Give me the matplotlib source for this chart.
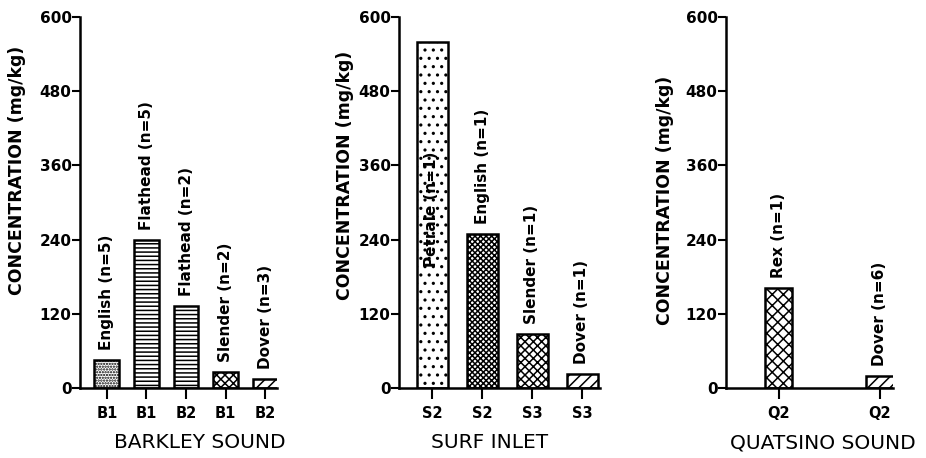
import numpy as np
import matplotlib
matplotlib.use("Agg")
import matplotlib.pyplot as plt

plt.rcParams['font.family'] = 'DejaVu Sans'
plt.rcParams['hatch.linewidth'] = 1.1

# Barkley Sound
barkley_sites = ["B1", "B1", "B2", "B1", "B2"]
barkley_labels = ["English (n=5)", "Flathead (n=5)", "Flathead (n=2)", "Slender (n=2)", "Dover (n=3)"]
barkley_values = [45, 240, 133, 26, 15]
barkley_hatch = ["......", "----", "----", "xxxx", "///"]

# Surf Inlet
surf_sites = ["S2", "S2", "S3", "S3"]
surf_labels = ["Petrale (n=1)", "English (n=1)", "Slender (n=1)", "Dover (n=1)"]
surf_values = [560, 249, 87, 23]
surf_hatch = ["..", "xxxxxx", "xxxx", "///"]

# Quatsino Sound
quat_sites = ["Q2", "Q2"]
quat_labels = ["Rex (n=1)", "Dover (n=6)"]
quat_values = [162, 20]
quat_hatch = ["xxx", "///"]

fig = plt.figure(figsize=(9.26, 4.58), dpi=100)

panels = [
    # rect, xlim, width, names, values, hatches, sites, title, title x, ylabel x, ylabel y
    ([80/926, 70/458, 197/926, 371/458], (-0.68, 4.3), 0.63,
     barkley_labels, barkley_values, barkley_hatch, barkley_sites, "BARKLEY SOUND", 200, 17, 170),
    ([399/926, 70/458, 201/926, 371/458], (-0.66, 3.36), 0.62,
     surf_labels, surf_values, surf_hatch, surf_sites, "SURF INLET", 490, 345, 175),
    ([726/926, 70/458, 167/926, 371/458], (-0.52, 1.13), 0.27,
     quat_labels, quat_values, quat_hatch, quat_sites, "QUATSINO SOUND", 823, 665, 200),
]

for rect, xlim, w, names, vals, hatches, sites, title, tx, lx, ly in panels:
    ax = fig.add_axes(rect)
    x = np.arange(len(vals))
    for i in range(len(vals)):
        ax.bar(x[i], vals[i], width=w, color="white", edgecolor="black",
               linewidth=1.8, hatch=hatches[i], zorder=2)
        if names[i].startswith("Petrale"):
            # label written inside the tall bar
            ax.text(x[i], 195, names[i], rotation=90, ha="center", va="bottom",
                    fontsize=11, fontweight="bold", zorder=3)
        else:
            ax.text(x[i], vals[i] + 16, names[i], rotation=90, ha="center", va="bottom",
                    fontsize=11, fontweight="bold")
    ax.set_xlim(*xlim)
    ax.set_ylim(0, 600)
    ax.set_yticks([0, 120, 240, 360, 480, 600])
    ax.set_xticks(x)
    ax.set_xticklabels(sites, fontsize=10.5, fontweight="bold")
    for lab in ax.get_yticklabels():
        lab.set_fontweight("bold")
        lab.set_fontsize(11)
    ax.tick_params(axis="y", direction="out", length=6, width=1.5, pad=0)
    ax.tick_params(axis="x", direction="out", length=8, width=1.5, pad=5)
    ax.spines["top"].set_visible(False)
    ax.spines["right"].set_visible(False)
    ax.spines["left"].set_linewidth(1.8)
    ax.spines["bottom"].set_linewidth(1.8)
    ax.patch.set_alpha(0)
    fig.text(tx / 926, 1 - 443 / 458, title, ha="center", va="center", fontsize=14.5)
    fig.text(lx / 926, 1 - ly / 458, "CONCENTRATION (mg/kg)", rotation=90,
             ha="center", va="center", fontsize=12.5, fontweight="bold")

fig.savefig("out.png", dpi=100)
